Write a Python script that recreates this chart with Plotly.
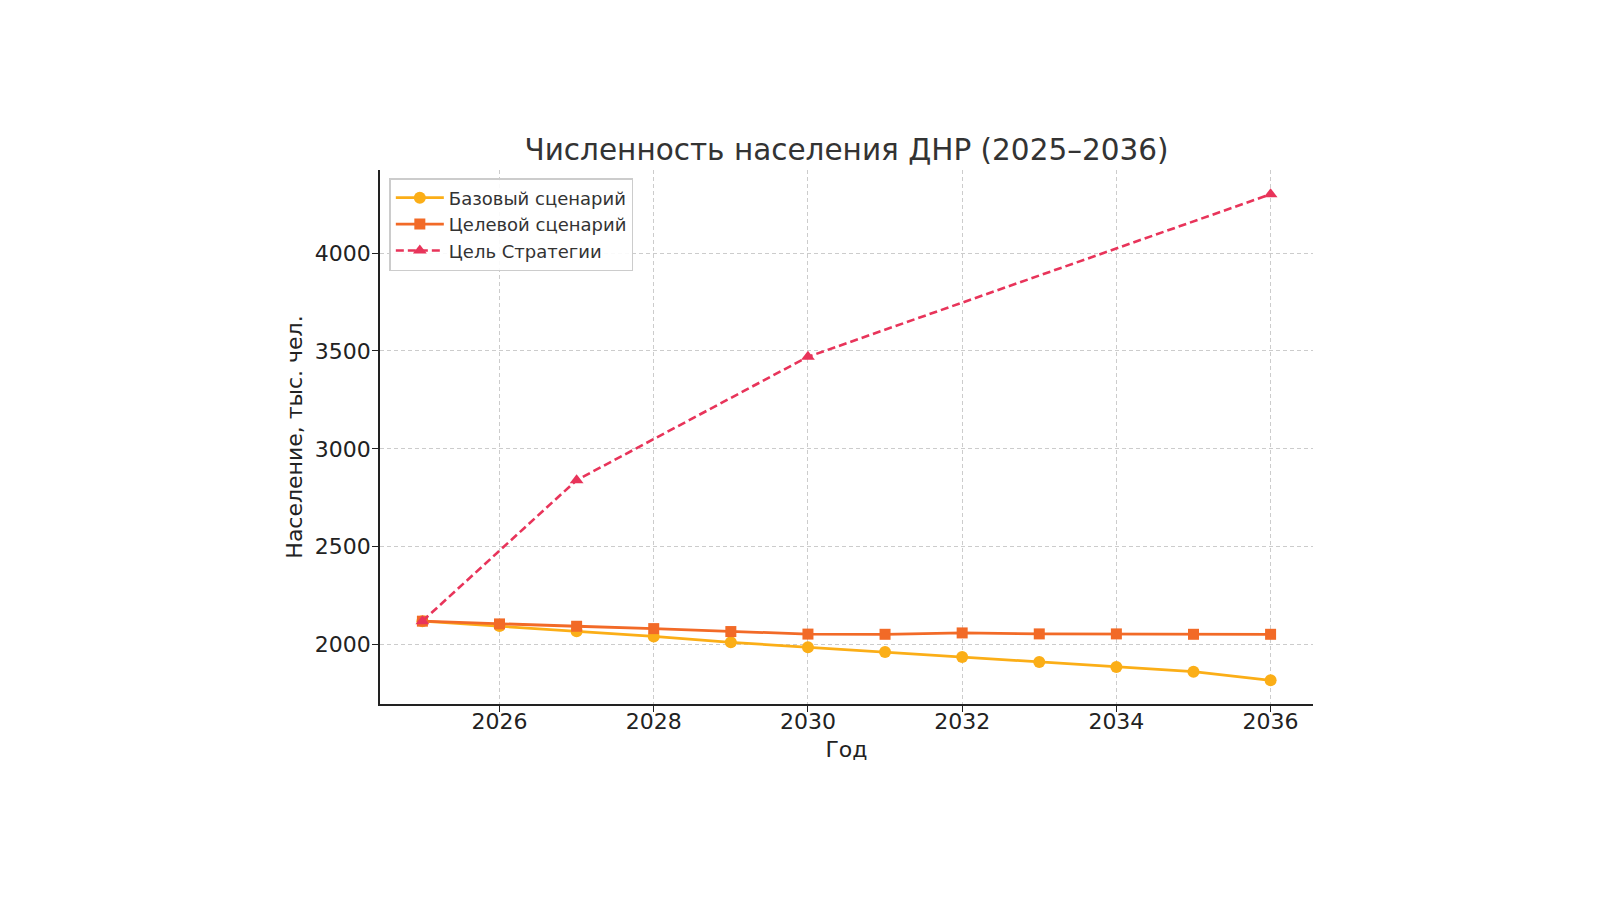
import plotly.graph_objects as go

years = [2025, 2026, 2027, 2028, 2029, 2030, 2031, 2032, 2033, 2034, 2035, 2036]
base = [2120, 2095, 2068, 2042, 2012, 1987, 1962, 1937, 1912, 1886, 1862, 1818]
target = [2120, 2106, 2094, 2082, 2067, 2054, 2053, 2060, 2055, 2055, 2053, 2053]
strat_years = [2025, 2027, 2030, 2036]
strategy = [2120, 2840, 3470, 4300]

C_BASE = "#FBAE17"
C_TARGET = "#F26A27"
C_STRAT = "#E8345A"
FONT = "DejaVu Sans"

fig = go.Figure()
fig.add_trace(go.Scatter(x=years, y=base, mode="lines+markers", name="Базовый сценарий",
                         line=dict(color=C_BASE, width=2.8),
                         marker=dict(symbol="circle", size=12, color=C_BASE)))
fig.add_trace(go.Scatter(x=years, y=target, mode="lines+markers", name="Целевой сценарий",
                         line=dict(color=C_TARGET, width=2.8),
                         marker=dict(symbol="square", size=11, color=C_TARGET)))
fig.add_trace(go.Scatter(x=strat_years, y=strategy, mode="lines+markers", name="Цель Стратегии",
                         line=dict(color=C_STRAT, width=2.6, dash="8px,4px"),
                         marker=dict(symbol="triangle-up", size=12, color=C_STRAT)))

axis_common = dict(
    showline=True, linecolor="#222", linewidth=1.5,
    ticks="outside", ticklen=6, tickwidth=1.2, tickcolor="#222",
    showgrid=True, gridcolor="#cccccc", griddash="4px,3px", gridwidth=1,
    zeroline=False, tickfont=dict(family=FONT, size=22, color="#222"),
)

fig.update_layout(
    width=1600, height=900,
    paper_bgcolor="white", plot_bgcolor="white",
    margin=dict(l=380, r=287, t=170, b=196),
    title=dict(text="Численность населения ДНР (2025–2036)", xref="paper", x=0.5, xanchor="center",
               yref="container", y=1 - 150 / 900, yanchor="middle",
               font=dict(family=FONT, size=29.5, color="#333")),
    xaxis=dict(range=[2024.45, 2036.55], tickvals=[2026, 2028, 2030, 2032, 2034, 2036],
               ticklabelstandoff=-9,
               title=dict(text="Год", font=dict(family=FONT, size=22, color="#222"), standoff=8),
               **axis_common),
    yaxis=dict(range=[1697, 4424], tickvals=[2000, 2500, 3000, 3500, 4000],
               ticklabelstandoff=-3,
               title=dict(text="Население, тыс. чел.", font=dict(family=FONT, size=22, color="#222"), standoff=6),
               **axis_common),
    legend=dict(x=0.01, y=0.985, xanchor="left", yanchor="top",
                bgcolor="rgba(255,255,255,0.9)", bordercolor="#cccccc", borderwidth=1.5,
                itemwidth=48,
                font=dict(family=FONT, size=18, color="#333"), tracegroupgap=2),
    showlegend=True,
)

fig.write_html("out.html")
